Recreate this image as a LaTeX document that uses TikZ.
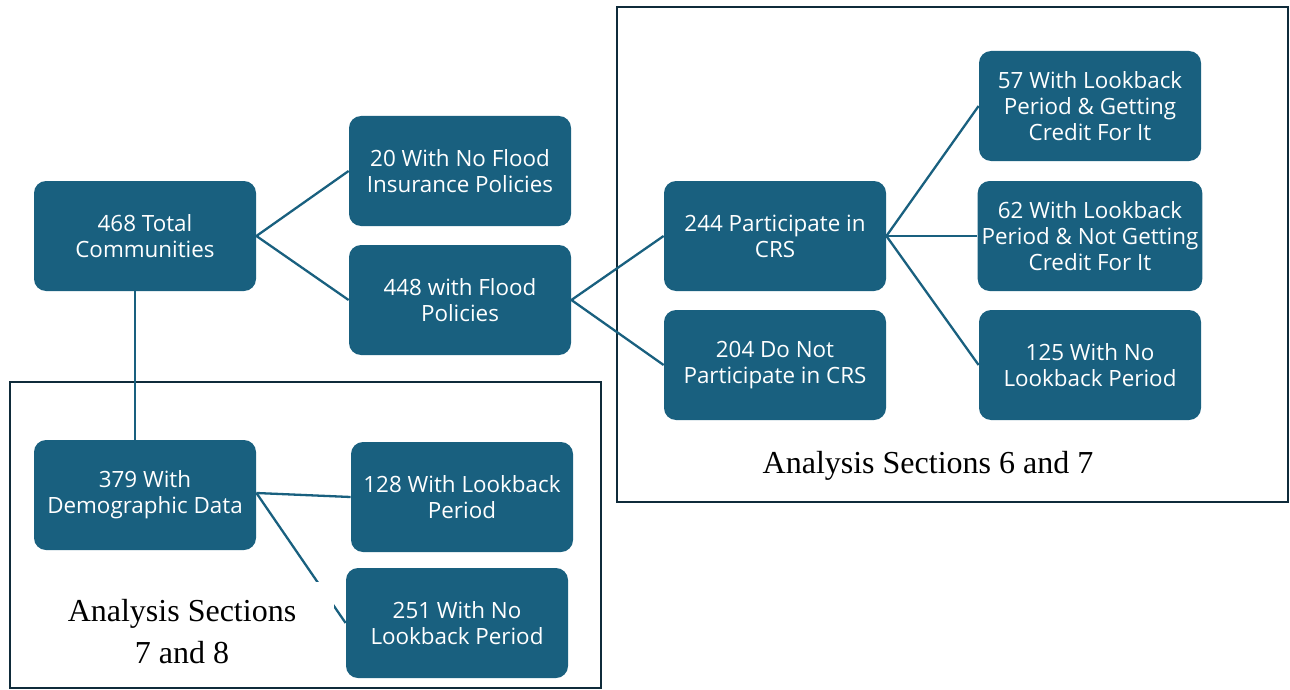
\documentclass[tikz,border=0pt]{standalone}
\usepackage{fontspec}
\setmainfont{Liberation Serif}
\newfontfamily\boxfont{Open Sans}
\usepackage{tikz}
\usetikzlibrary{positioning}
\definecolor{boxteal}{HTML}{19607F}
\definecolor{frameink}{HTML}{0F2B3A}
\tikzset{
  box/.style={rounded corners=6pt,fill=boxteal,text=white,align=center,
    minimum width=111pt,minimum height=55pt,inner sep=2pt,
    font=\boxfont\fontsize{11.2}{13}\selectfont},
  link/.style={draw=boxteal,line width=1.15pt},
  frame/.style={draw=frameink,line width=1.3pt},
  seclabel/.style={font=\fontsize{16}{21}\selectfont,align=center}
}
\begin{document}
\begin{tikzpicture}[x=0.5pt,y=-0.5pt]
  \useasboundingbox (0,0) rectangle (1290,690);
  % Frames
  \draw[frame] (617,7) rectangle (1288,502);
  \draw[frame] (10,382) rectangle (601,688);
  % Boxes
  \node[box] (total) at (145,236) {468 Total\\Communities};
  \node[box] (noflood) at (460,171) {20 With No Flood\\Insurance Policies};
  \node[box] (flood) at (460,300) {448 with Flood\\Policies};
  \node[box] (crs) at (775,236) {244 Participate in\\CRS};
  \node[box] (nocrs) at (775,365) {204 Do Not\\Participate in CRS};
  \node[box] (getcredit) at (1090,106) {57 With Lookback\\Period \& Getting\\Credit For It};
  \node[box] (nocredit) at (1090,236) {62 With Lookback\\Period \& Not Getting\\Credit For It};
  \node[box] (nolookback) at (1090,365) {125 With No\\Lookback Period};
  \node[box] (demo) at (145,495) {379 With\\Demographic Data};
  \node[box] (lookback) at (462,497) {128 With Lookback\\Period};
  \node[box] (demonolook) at (457,623) {251 With No\\Lookback Period};
  % Connectors
  \draw[link] (total.east) -- (noflood.west);
  \draw[link] (total.east) -- (flood.west);
  \draw[link] ([xshift=-5pt]total.south) -- ([xshift=-5pt]demo.north);
  \draw[link] (flood.east) -- (crs.west);
  \draw[link] (flood.east) -- (nocrs.west);
  \draw[link] (crs.east) -- (getcredit.west);
  \draw[link] (crs.east) -- (nocredit.west);
  \draw[link] (crs.east) -- (nolookback.west);
  \draw[link] ([yshift=1pt]demo.east) -- (lookback.west);
  \draw[link] ([yshift=1pt]demo.east) -- (demonolook.west);
  % Section labels
  \node[seclabel,fill=white,inner xsep=19pt,inner ysep=9pt] (secB) at (182,632) {Analysis Sections\\7 and 8};
  \node[seclabel] (secA) at (928,466) {Analysis Sections 6 and 7};
\end{tikzpicture}
\end{document}
